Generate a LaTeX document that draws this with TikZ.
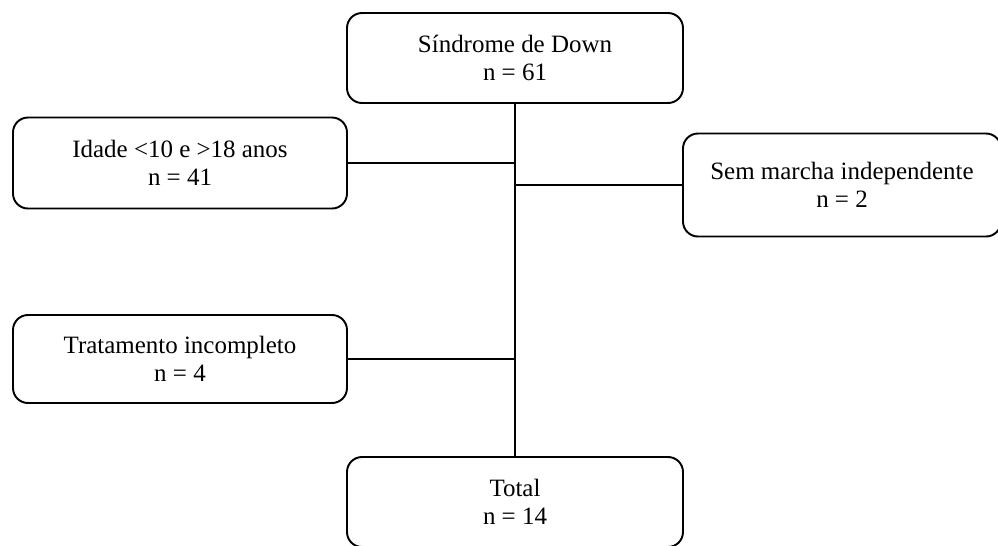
\documentclass[tikz,border=0pt]{standalone}
\usepackage{fontspec}
\setmainfont{Liberation Serif}
\usepackage{tikz}
\usetikzlibrary{calc,positioning}

\begin{document}
\begin{tikzpicture}[
    box/.style={draw, line width=1.1pt, rounded corners=0.3cm, align=center, fill=white,
        font=\fontsize{14.2}{15.6}\selectfont},
    link/.style={line width=1.1pt}
]
\useasboundingbox (0,0) rectangle (19.96,-10.9);

% Main flow
\node[box, minimum width=6.72cm, minimum height=1.8cm] (down) at (10.3, -1.16) {
    Síndrome de Down\\
    n = 61
};

\node[box, minimum width=6.72cm, minimum height=1.8cm] (total) at (10.3, -10.04) {
    Total\\
    n = 14
};

% Exclusions
\node[box, minimum width=6.68cm, minimum height=1.82cm] (idade) at (3.6, -3.26) {
    Idade <10 e >18 anos\\
    n = 41
};

\node[box, minimum width=6.36cm, minimum height=2.06cm] (marcha) at (16.84, -3.7) {
    Sem marcha independente\\
    n = 2
};

\node[box, minimum width=6.68cm, minimum height=1.76cm] (tratamento) at (3.6, -7.18) {
    Tratamento incompleto\\
    n = 4
};

% Lines
\draw[link] (down.south) -- (total.north);
\draw[link] (idade.east) -- (idade.east -| down.south);
\draw[link] (marcha.west) -- (marcha.west -| down.south);
\draw[link] (tratamento.east) -- (tratamento.east -| down.south);

\end{tikzpicture}
\end{document}
